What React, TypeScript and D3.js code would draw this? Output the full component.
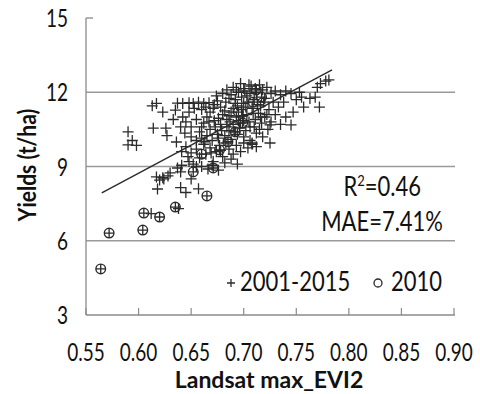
import React from "react";
import * as d3 from "d3";

const xTicks = [0.55, 0.6, 0.65, 0.7, 0.75, 0.8, 0.85, 0.9];
const yTicks = [3, 6, 9, 12, 15];
const gridValues = [6, 9, 12];

// 2001-2015 samples: [max_EVI2, yield]
const allYears: [number, number][] = [
  [0.590, 10.40], [0.594, 10.05], [0.590, 9.87], [0.598, 9.85], [0.613, 11.45], [0.617, 11.55],
  [0.623, 11.20], [0.614, 10.55], [0.626, 10.55], [0.627, 10.25], [0.635, 11.28], [0.633, 10.90],
  [0.637, 11.56], [0.636, 9.99],
  [0.617, 8.58], [0.620, 8.45], [0.624, 8.50], [0.618, 8.09], [0.630, 8.74], [0.637, 8.94],
  [0.640, 8.78], [0.641, 9.05], [0.623, 8.55], [0.628, 8.62], [0.640, 8.15], [0.645, 7.95],
  [0.650, 8.50], [0.657, 8.10], [0.655, 9.00], [0.648, 9.20], [0.612, 7.10], [0.638, 7.30],
  [0.642, 11.55], [0.648, 11.58], [0.652, 11.55], [0.657, 11.60], [0.662, 11.55], [0.667, 11.58],
  [0.672, 11.50], [0.660, 11.30], [0.668, 11.20], [0.675, 11.65], [0.680, 11.95], [0.684, 12.10],
  [0.688, 11.90], [0.690, 12.20], [0.695, 12.00], [0.700, 12.15], [0.703, 11.85], [0.707, 12.25],
  [0.712, 12.00], [0.715, 12.30], [0.718, 12.10], [0.722, 12.20], [0.726, 11.95], [0.730, 12.05],
  [0.735, 11.90], [0.705, 12.30], [0.697, 12.35], [0.692, 11.70], [0.683, 11.60], [0.678, 11.40],
  [0.700, 11.55], [0.710, 11.70], [0.720, 11.75], [0.728, 11.60], [0.733, 11.40], [0.724, 11.30],
  [0.716, 11.45],
  [0.645, 10.80], [0.650, 10.60], [0.655, 10.90], [0.658, 10.40], [0.662, 10.75], [0.665, 11.00],
  [0.668, 10.50], [0.672, 10.85], [0.675, 10.30], [0.678, 10.70], [0.680, 11.10], [0.684, 10.90],
  [0.686, 10.45], [0.688, 11.20], [0.690, 10.70], [0.693, 11.00], [0.696, 10.55], [0.698, 11.30],
  [0.700, 10.85], [0.703, 11.10], [0.706, 10.60], [0.708, 11.35], [0.711, 10.90], [0.714, 11.15],
  [0.717, 10.75], [0.720, 11.00], [0.723, 10.50], [0.726, 10.80], [0.730, 11.10], [0.735, 10.70],
  [0.740, 11.00], [0.650, 10.20], [0.655, 10.05], [0.660, 10.15], [0.665, 10.25], [0.670, 10.05],
  [0.676, 10.15], [0.682, 10.25], [0.688, 10.10], [0.694, 10.30], [0.700, 10.20], [0.706, 10.05],
  [0.712, 10.35], [0.718, 10.20], [0.644, 10.35], [0.640, 10.60], [0.642, 11.00], [0.648, 11.20],
  [0.653, 11.35], [0.671, 11.35], [0.694, 11.45], [0.704, 11.60],
  [0.645, 9.80], [0.650, 9.55], [0.655, 9.70], [0.658, 9.35], [0.662, 9.90], [0.664, 9.50],
  [0.668, 9.75], [0.671, 9.20], [0.674, 9.60], [0.677, 9.85], [0.680, 9.40], [0.683, 9.95],
  [0.686, 9.70], [0.690, 9.50], [0.693, 9.85], [0.697, 9.60], [0.700, 9.95], [0.704, 9.75],
  [0.708, 9.90], [0.712, 9.80], [0.652, 9.10], [0.660, 9.00], [0.666, 8.90], [0.670, 9.05],
  [0.676, 8.85], [0.682, 9.15], [0.688, 9.30], [0.694, 9.10], [0.647, 9.40], [0.641, 9.60],
  [0.725, 10.68], [0.745, 10.68], [0.708, 9.95], [0.725, 9.95], [0.747, 11.20], [0.753, 12.00],
  [0.755, 11.80], [0.763, 11.75], [0.770, 12.20], [0.773, 12.35], [0.778, 12.45], [0.781, 12.50],
  [0.768, 11.80], [0.772, 11.40], [0.757, 11.40], [0.740, 12.05], [0.745, 11.95], [0.750, 11.70],
  [0.738, 11.60],
  [0.682, 11.25], [0.686, 11.05], [0.690, 11.35], [0.695, 10.85], [0.699, 11.05], [0.702, 11.40],
  [0.705, 10.80], [0.709, 11.15], [0.713, 11.50], [0.716, 11.00], [0.719, 11.60], [0.722, 11.10],
  [0.684, 10.60], [0.691, 10.40], [0.697, 10.75], [0.702, 10.45], [0.710, 10.60], [0.715, 10.50],
  [0.676, 10.95], [0.679, 10.45], [0.687, 10.80], [0.692, 11.55], [0.698, 11.80], [0.706, 11.95],
  [0.711, 12.15], [0.701, 12.05], [0.693, 12.10], [0.686, 11.75], [0.674, 11.85], [0.664, 11.40],
  [0.660, 10.60], [0.667, 10.80], [0.673, 10.60], [0.663, 10.00], [0.669, 9.55], [0.678, 9.65],
];

// 2010 samples: [max_EVI2, yield]
const year2010: [number, number][] = [
  [0.564, 4.86], [0.572, 6.31], [0.604, 6.43], [0.605, 7.12], [0.620, 6.96], [0.635, 7.36],
  [0.665, 7.81], [0.652, 8.78], [0.671, 8.94], [0.677, 9.67], [0.692, 10.40], [0.699, 10.76],
  [0.695, 11.20], [0.709, 11.60], [0.712, 12.10], [0.717, 11.80], [0.685, 10.00], [0.660, 9.50],
];

const trendX = [0.565, 0.784];
const trendY = [7.93, 12.9];

const legendLabels = ["2001-2015", "2010"];
const r2Value = "0.46";
const maeValue = "7.41%";

const INK = "#2b2b2b";
const FONT = "Lato, 'Open Sans', sans-serif";

function Cross({ cx, cy, s = 5.5 }: { cx: number; cy: number; s?: number }) {
  return (
    <path
      d={`M${cx - s},${cy}H${cx + s}M${cx},${cy - s}V${cy + s}`}
      stroke={INK}
      strokeWidth={1.3}
      fill="none"
    />
  );
}

function T({ x, y, anchor = "start", size = 20, weight = "normal", sy = 1.2, children }: any) {
  return (
    <g transform={`translate(${x},${y}) scale(1,${sy})`}>
      <text
        x={0}
        y={0}
        textAnchor={anchor}
        fontFamily={FONT}
        fontSize={size}
        fontWeight={weight}
        fill="#111"
      >
        {children}
      </text>
    </g>
  );
}

export default function App() {
  const W = 480;
  const H = 394;
  const x = d3.scaleLinear().domain([0.55, 0.9]).range([86, 454]);
  const y = d3.scaleLinear().domain([3, 15]).range([315, 18]);
  const line = d3
    .line<number>()
    .x((_, i) => x(trendX[i]))
    .y((d) => y(d));

  return (
    <svg
      width={W}
      height={H}
      style={{ position: "absolute", left: 0, top: 0, background: "#fff" }}
    >
      <rect width={W} height={H} fill="#fff" />
      {gridValues.map((v) => (
        <line key={v} x1={x(0.55)} x2={x(0.9) + 1} y1={y(v)} y2={y(v)} stroke="#9a9a9a" strokeWidth={1.5} />
      ))}
      {/* axes */}
      <line x1={x(0.55)} x2={x(0.55)} y1={y(15)} y2={y(3)} stroke="#8a8a8a" strokeWidth={1.3} />
      <line x1={x(0.55)} x2={x(0.9) + 1} y1={y(3)} y2={y(3)} stroke="#8a8a8a" strokeWidth={1.3} />
      <line x1={x(0.55)} x2={x(0.55) + 7} y1={y(15)} y2={y(15)} stroke="#8a8a8a" strokeWidth={1.3} />
      {xTicks.map((t) => (
        <line key={t} x1={x(t)} x2={x(t)} y1={y(3)} y2={y(3) - 7} stroke="#8a8a8a" strokeWidth={1.2} />
      ))}
      {yTicks.map((t) => (
        <T key={t} x={68} y={y(t) + 9} anchor="end" size={19} sy={1.3}>
          {t}
        </T>
      ))}
      {xTicks.map((t) => (
        <T key={t} x={x(t)} y={361} anchor="middle" size={19} sy={1.3}>
          {t.toFixed(2)}
        </T>
      ))}
      {/* points */}
      {allYears.map(([a, b], i) => (
        <Cross key={"c" + i} cx={x(a)} cy={y(b)} />
      ))}
      {year2010.map(([a, b], i) => (
        <g key={"o" + i}>
          <circle cx={x(a)} cy={y(b)} r={4.8} fill="none" stroke={INK} strokeWidth={1.4} />
          <Cross cx={x(a)} cy={y(b)} s={4.8} />
        </g>
      ))}
      <path d={line(trendY) || ""} stroke={INK} strokeWidth={1.4} fill="none" />
      {/* annotations */}
      <g transform={`translate(421,196) scale(1,1.2)`}>
        <text textAnchor="end" fontFamily={FONT} fontSize={22} fill="#111">
          R<tspan dy={-8} fontSize={13}>2</tspan>
          <tspan dy={8}>={r2Value}</tspan>
        </text>
      </g>
      <T x={443} y={231} anchor="end" size={22} sy={1.2}>
        MAE={maeValue}
      </T>
      {/* legend */}
      <Cross cx={231} cy={283} s={4} />
      <T x={240} y={291} size={22} sy={1.2}>
        {legendLabels[0]}
      </T>
      <circle cx={378} cy={283} r={4} fill="none" stroke={INK} strokeWidth={1.3} />
      <T x={391} y={291} size={22} sy={1.2}>
        {legendLabels[1]}
      </T>
      {/* titles */}
      <T x={269} y={388} anchor="middle" size={23} weight="bold" sy={1.0}>
        Landsat max_EVI2
      </T>
      <g transform={`translate(36,165) rotate(-90) scale(1,1.15)`}>
        <text textAnchor="middle" fontFamily={FONT} fontSize={21} fontWeight="bold" fill="#111">
          Yields (t/ha)
        </text>
      </g>
    </svg>
  );
}
